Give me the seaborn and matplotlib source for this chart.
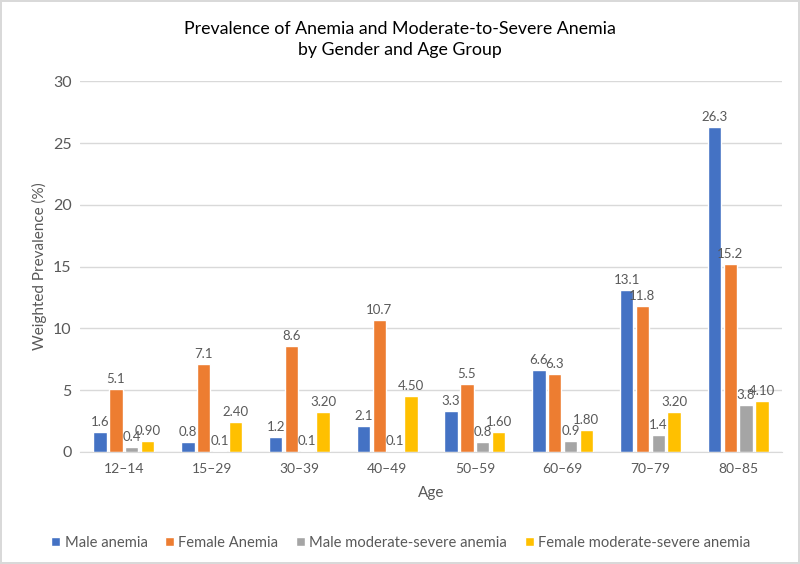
import pandas as pd
import seaborn as sns
import matplotlib.pyplot as plt

# Chart data
ages = ['12–14', '15–29', '30–39', '40–49', '50–59', '60–69', '70–79', '80–85']
series = ['Male anemia', 'Female Anemia', 'Male moderate-severe anemia', 'Female moderate-severe anemia']
male_anemia = [1.6, 0.8, 1.2, 2.1, 3.3, 6.6, 13.1, 26.3]
female_anemia = [5.1, 7.1, 8.6, 10.7, 5.5, 6.3, 11.8, 15.2]
male_ms = [0.4, 0.1, 0.1, 0.1, 0.8, 0.9, 1.4, 3.8]
female_ms = [0.90, 2.40, 3.20, 4.50, 1.60, 1.80, 3.20, 4.10]
label_fmt = ['{:.1f}', '{:.1f}', '{:.1f}', '{:.2f}']

colors = ['#4472C4', '#ED7D31', '#A5A5A5', '#FFC000']

values = [male_anemia, female_anemia, male_ms, female_ms]
rows = []
for name, vals in zip(series, values):
    for age, v in zip(ages, vals):
        rows.append({'Age': age, 'Series': name, 'Value': v})
df = pd.DataFrame(rows)

sns.set_style('white')
plt.rcParams['font.family'] = ['Lato', 'DejaVu Sans']
text_col = '#595959'

fig = plt.figure(figsize=(8, 5.64), dpi=100)
fig.patch.set_edgecolor('#D9D9D9')
fig.patch.set_linewidth(1.5)
ax = fig.add_axes([0.1, 0.1986, 0.8775, 0.6574])

sns.barplot(data=df, x='Age', y='Value', hue='Series', order=ages, hue_order=series,
            palette=colors, width=0.72, gap=0.15, saturation=1, ax=ax)

for container, vals, fmt in zip(ax.containers, values, label_fmt):
    ax.bar_label(container, labels=[fmt.format(v) for v in vals], padding=3,
                 fontsize=9.5, color=text_col)

ax.set_ylim(0, 30)
ax.set_yticks(range(0, 31, 5))
ax.yaxis.grid(True, color='#D9D9D9', linewidth=1)
ax.set_axisbelow(True)
for side in ['top', 'right', 'left']:
    ax.spines[side].set_visible(False)
ax.spines['bottom'].set_color('#D9D9D9')
ax.tick_params(axis='both', colors=text_col, labelsize=10, length=0)
ax.tick_params(axis='x', pad=8)
ax.tick_params(axis='y', labelsize=11.5, pad=6)

ax.set_xlabel('Age', fontsize=11, color=text_col, labelpad=8)
ax.set_ylabel('Weighted Prevalence (%)', fontsize=11, color=text_col)

fig.suptitle('Prevalence of Anemia and Moderate-to-Severe Anemia\nby Gender and Age Group',
             y=0.962, fontsize=12.8, color='#000000', linespacing=1.35)

handles, labels = ax.get_legend_handles_labels()
ax.legend(handles, labels, loc='lower center', bbox_to_anchor=(0.457, -0.3), ncol=4,
          frameon=False, fontsize=10.6, handlelength=0.6, handleheight=0.6,
          handletextpad=0.3, columnspacing=1.2, labelcolor=text_col)

fig.savefig('out.png', dpi=100)
